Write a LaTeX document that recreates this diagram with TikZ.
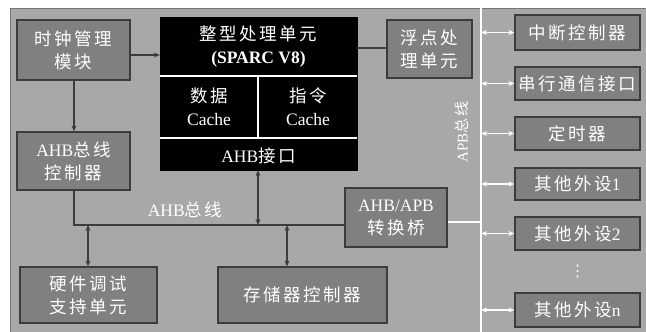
\documentclass[tikz,border=0pt]{standalone}
\usepackage{fontspec}
\usepackage{graphicx}
\setmainfont{Liberation Serif}
\newfontfamily\cjk[LetterSpace=14]{Noto Sans CJK SC}
\newfontfamily\dejavu{DejaVu Sans}
\usetikzlibrary{arrows.meta}
\definecolor{bgcol}{RGB}{168,168,168}
\definecolor{boxcol}{RGB}{128,128,128}
\definecolor{edgecol}{RGB}{60,60,60}
\tikzset{
  box/.style={draw=edgecol, fill=boxcol, line width=1.3pt, text=white, align=center,
    inner sep=0pt, font=\fontsize{17.5}{23}\selectfont},
  conn/.style={draw=edgecol, line width=1.3pt},
  tip/.style={-{Stealth[length=6pt,width=5pt]}},
  dtip/.style={{Stealth[length=6pt,width=5pt]}-{Stealth[length=6pt,width=5pt]}},
  wconn/.style={draw=white, line width=1.8pt},
  lbl/.style={text=white, font=\fontsize{17.5}{23}\selectfont, inner sep=0pt}
}
\newcommand{\zh}[1]{{\cjk #1}}
\begin{document}
\begin{tikzpicture}[x=1pt,y=-1pt]
\useasboundingbox (0,0) rectangle (646,332);
\fill[white] (0,0) rectangle (646,332);
\fill[bgcol] (10,8) rectangle (646,332);
\draw[edgecol!70, line width=1pt] (10,340) -- (10,8) -- (660,8);
% left column
\node[box, minimum width=113pt, minimum height=60pt] (clk) at (73.5,50) {\zh{时钟管理}\\\zh{模块}};
\node[box, minimum width=113pt, minimum height=58pt] (ahbc) at (73.5,161) {AHB\zh{总线}\\\zh{控制器}};
% CPU
\node[fill=black, draw=black, minimum width=197pt, minimum height=153pt, inner sep=0pt] (cpu) at (258.5,93.5) {};
\coordinate (c1l) at (160,76); \coordinate (c1r) at (357,76);
\coordinate (c2l) at (160,138); \coordinate (c2r) at (357,138);
\coordinate (cmt) at (258,76); \coordinate (cmb) at (258,138);
\draw[white, line width=1.5pt] (c1l) -- (c1r);
\draw[white, line width=1.5pt] (c2l) -- (c2r);
\draw[white, line width=1.5pt] (cmt) -- (cmb);
\node[lbl, align=center] (iu) at (258.5,47) {\zh{整型处理单元}\\\textbf{(SPARC V8)}};
\node[lbl, align=center] (dc) at (209,107) {\zh{数据}\\Cache};
\node[lbl, align=center] (ic) at (308,107) {\zh{指令}\\Cache};
\node[lbl] (ahbif) at (258.5,156) {AHB\zh{接口}};
% FPU
\node[box, minimum width=85pt, minimum height=58pt] (fpu) at (429.5,49) {\zh{浮点处}\\\zh{理单元}};
% bridge
\node[box, minimum width=102pt, minimum height=59pt] (bridge) at (396,217.5) {AHB/APB\\\zh{转换桥}};
% bottom
\node[box, minimum width=137pt, minimum height=56pt] (dbg) at (88.5,295) {\zh{硬件调试}\\\zh{支持单元}};
\node[box, minimum width=169pt, minimum height=56pt] (mem) at (302.5,295) {\zh{存储器控制器}};
% right column
\node[box, minimum width=125pt, minimum height=35pt] (p0) at (577.5,32.5) {\zh{中断控制器}};
\node[box, minimum width=125pt, minimum height=33pt] (p1) at (577.5,83.5) {\zh{串行通信接口}};
\node[box, minimum width=125pt, minimum height=33pt] (p2) at (577.5,133.5) {\zh{定时器}};
\node[box, minimum width=125pt, minimum height=32pt] (p3) at (577.5,184) {\zh{其他外设}1};
\node[box, minimum width=125pt, minimum height=33pt] (p4) at (577.5,233.5) {\zh{其他外设}2};
\node[text=white, font=\dejavu\fontsize{16}{16}\selectfont, inner sep=0pt] (vd) at (577.5,272) {⋮};
\node[box, minimum width=125pt, minimum height=34pt] (p5) at (577.5,310) {\zh{其他外设}n};
% APB bus
\coordinate (apbt) at (481,8);
\coordinate (apbb) at (481,332);
\draw[wconn, line width=2.2pt] (apbt) -- (apbb);
\node[lbl, font=\fontsize{15}{15}\selectfont] (apbl) at (462,132) {\rotatebox{90}{APB\zh{总线}}};
\foreach \p in {p0,p1,p2,p3,p4,p5}{
  \draw[wconn, line width=1.4pt, dtip, white] (apbt |- \p.west) -- (\p.west);
}
\draw[wconn, line width=1.4pt] (bridge.east |- 0,222) -- (apbt |- 0,222);
% AHB bus
\coordinate (busl) at (74,225);
\coordinate (busr) at (345,225);
\draw[conn] (ahbc.south -| busl) -- (busl) -- (busr);
\node[lbl] (ahbl) at (185,210) {AHB\zh{总线}};
\draw[conn, dtip] (cpu.south -| 258,0) -- (258,225);
\draw[conn, dtip] (88,225) -- (dbg.north -| 88,0);
\draw[conn, dtip] (287,225) -- (mem.north -| 287,0);
% clock connections
\draw[conn, tip] (clk.south -| busl) -- (ahbc.north -| busl);
\draw[conn, tip] (clk.east |- 0,55) -- (cpu.west |- 0,55);
\draw[conn] (cpu.east |- 0,48) -- (fpu.west |- 0,48);
\end{tikzpicture}
\end{document}
